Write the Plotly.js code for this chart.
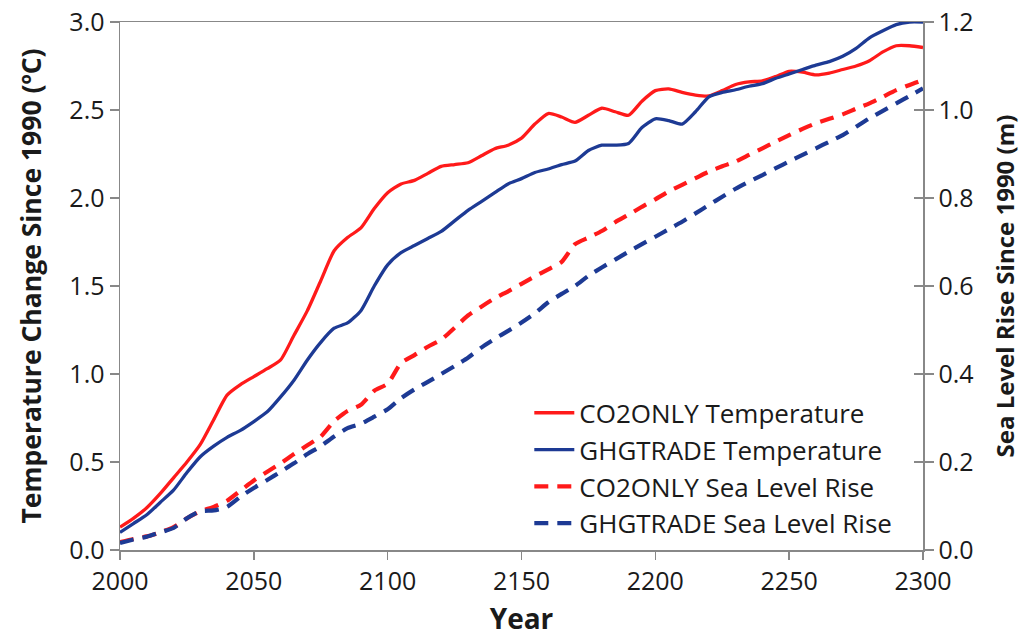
<!DOCTYPE html>
<html>
<head>
<meta charset="utf-8">
<script src="https://cdn.plot.ly/plotly-3.0.1.min.js"></script>
<style>html,body{margin:0;padding:0;background:#fff;}#chart{width:1027px;height:637px;}</style>
</head>
<body>
<div id="chart"></div>
<script>
const years = [2000,2005,2010,2015,2020,2025,2030,2035,2040,2045,2050,2055,2060,2065,2070,2075,2080,2085,2090,2095,
  2100,2105,2110,2115,2120,2125,2130,2135,2140,2145,2150,2155,2160,2165,2170,2175,2180,2185,2190,2195,
  2200,2205,2210,2215,2220,2225,2230,2235,2240,2245,2250,2255,2260,2265,2270,2275,2280,2285,2290,2295,2300];

const co2onlyTemp = [0.13,0.18,0.24,0.32,0.41,0.50,0.60,0.74,0.88,0.94,0.985,1.03,1.08,1.22,1.36,1.53,1.70,1.775,1.83,1.94,
  2.03,2.08,2.10,2.14,2.18,2.19,2.20,2.24,2.28,2.30,2.34,2.42,2.48,2.46,2.43,2.47,2.51,2.49,2.47,2.55,
  2.61,2.62,2.60,2.585,2.58,2.61,2.645,2.66,2.665,2.69,2.72,2.715,2.70,2.71,2.73,2.75,2.78,2.83,2.865,2.865,2.855];

const ghgtradeTemp = [0.10,0.15,0.20,0.27,0.34,0.44,0.53,0.59,0.64,0.68,0.73,0.785,0.87,0.965,1.08,1.18,1.26,1.29,1.36,1.50,
  1.62,1.69,1.73,1.77,1.81,1.87,1.93,1.98,2.03,2.08,2.11,2.145,2.165,2.19,2.21,2.27,2.30,2.30,2.31,2.40,
  2.45,2.44,2.42,2.49,2.575,2.60,2.615,2.635,2.65,2.68,2.705,2.73,2.755,2.775,2.805,2.85,2.91,2.95,2.985,3.0,3.0];

const co2onlySea = [0.018,0.025,0.031,0.040,0.052,0.072,0.088,0.098,0.112,0.135,0.158,0.178,0.197,0.218,0.238,0.258,0.293,0.316,0.33,0.362,
  0.378,0.425,0.443,0.462,0.478,0.505,0.533,0.553,0.572,0.588,0.605,0.622,0.638,0.655,0.695,0.71,0.725,0.745,0.762,0.78,
  0.797,0.815,0.83,0.845,0.86,0.872,0.883,0.898,0.913,0.928,0.943,0.957,0.97,0.98,0.99,1.003,1.015,1.03,1.045,1.057,1.068];

const ghgtradeSea = [0.016,0.024,0.030,0.040,0.05,0.072,0.088,0.09,0.098,0.121,0.141,0.159,0.178,0.197,0.218,0.236,0.258,0.277,0.287,0.303,
  0.32,0.345,0.365,0.382,0.40,0.418,0.437,0.46,0.48,0.498,0.517,0.538,0.563,0.582,0.60,0.623,0.642,0.66,0.678,0.695,
  0.712,0.729,0.746,0.765,0.784,0.803,0.821,0.837,0.852,0.868,0.883,0.898,0.913,0.928,0.943,0.962,0.981,0.998,1.015,1.032,1.049];

const seriesNames = ["CO2ONLY Temperature","GHGTRADE Temperature","CO2ONLY Sea Level Rise","GHGTRADE Sea Level Rise"];
const xTicks = [2000,2050,2100,2150,2200,2250,2300];

const RED = "#ff1a1a", BLUE = "#1d3a94";
const FONT = "Open Sans, Noto Sans, sans-serif";

const traces = [
  {x: years, y: co2onlyTemp, name: seriesNames[0], mode: "lines", yaxis: "y",
   line: {color: RED, width: 3.3, shape: "spline", smoothing: 0.6}},
  {x: years, y: ghgtradeTemp, name: seriesNames[1], mode: "lines", yaxis: "y",
   line: {color: BLUE, width: 3.3, shape: "spline", smoothing: 0.6}},
  {x: years, y: co2onlySea, name: seriesNames[2], mode: "lines", yaxis: "y2",
   line: {color: RED, width: 4.2, dash: "14px,9px", shape: "spline", smoothing: 0.6}},
  {x: years, y: ghgtradeSea, name: seriesNames[3], mode: "lines", yaxis: "y2",
   line: {color: BLUE, width: 4.2, dash: "14px,9px", shape: "spline", smoothing: 0.6}}
];

const axisLine = "#888888";
const layout = {
  width: 1027, height: 637,
  margin: {l: 120, r: 104, t: 22, b: 87},
  paper_bgcolor: "#fff", plot_bgcolor: "#fff",
  font: {family: FONT, color: "#1a1a1a", size: 24},
  showlegend: true,
  legend: {x: 0.968, xanchor: "right", y: 0.005, yanchor: "bottom",
    bgcolor: "rgba(0,0,0,0)", font: {family: FONT, size: 26, color: "#1a1a1a"},
    tracegroupgap: 0, itemwidth: 40},
  xaxis: {range: [2000, 2300], tickvals: xTicks, ticks: "outside", ticklen: 8, tickwidth: 1.5,
    tickcolor: axisLine, showline: true, linecolor: axisLine, linewidth: 1.5, mirror: true,
    showgrid: false, zeroline: false, tickfont: {size: 25},
    title: {text: "<b>Year</b>", font: {size: 28}, standoff: 19}},
  yaxis: {range: [0, 3.0], dtick: 0.5, tickformat: ".1f", ticks: "outside", ticklen: 9, tickwidth: 1.5,
    tickcolor: axisLine, showline: true, linecolor: axisLine, linewidth: 1.5,
    showgrid: false, zeroline: false, tickfont: {size: 25},
    title: {text: "<b>Temperature Change Since 1990 (ºC)</b>", font: {size: 26.5}, standoff: 20}},
  yaxis2: {range: [0, 1.2], dtick: 0.2, tickformat: ".1f", overlaying: "y", side: "right",
    ticks: "outside", ticklen: 9, tickwidth: 1.5, tickcolor: axisLine,
    showline: true, linecolor: axisLine, linewidth: 1.5, showgrid: false, zeroline: false,
    tickfont: {size: 25},
    title: {text: "<b>Sea Level Rise Since 1990 (m)</b>", font: {size: 24}, standoff: 24}},
  yaxis3: {range: [0, 1.2], dtick: 0.2, overlaying: "y", side: "right", ticks: "inside",
    ticklen: 9, tickwidth: 1.5, tickcolor: axisLine, showticklabels: false,
    showline: false, showgrid: false, zeroline: false}
};

// invisible helper trace so the inner right-hand ticks (yaxis3) are drawn
traces.push({x: [years[0]], y: [0], yaxis: "y3", mode: "lines", showlegend: false,
  hoverinfo: "skip", line: {color: "rgba(0,0,0,0)"}});

Plotly.newPlot("chart", traces, layout, {displayModeBar: false, staticPlot: true});
</script>
</body>
</html>
